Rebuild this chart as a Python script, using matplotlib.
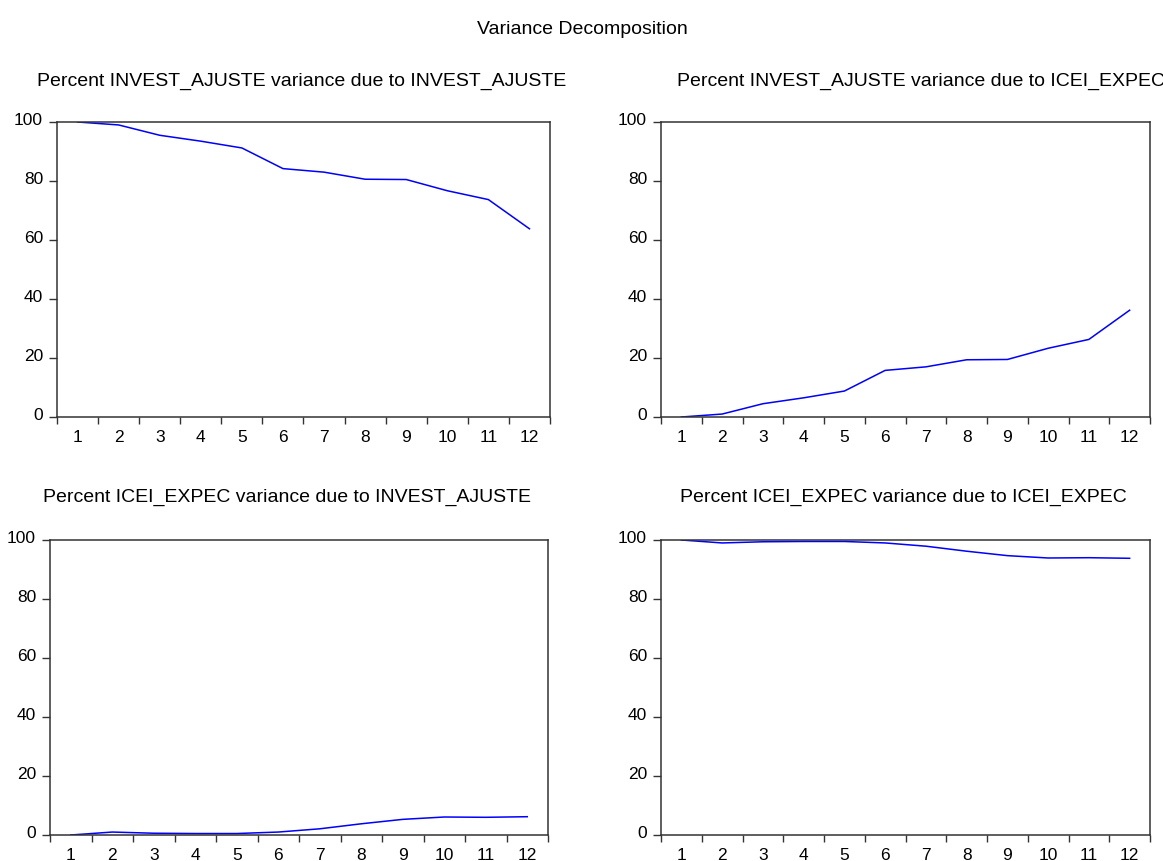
import matplotlib.pyplot as plt
from matplotlib.transforms import ScaledTranslation

plt.rcParams['font.family'] = ['Liberation Sans', 'DejaVu Sans']

periods = list(range(1, 13))
invest_by_invest = [100.0, 99.0, 95.5, 93.5, 91.2, 84.2, 83.0, 80.6, 80.5, 76.7, 73.7, 63.8]
invest_by_icei = [0.0, 1.0, 4.5, 6.5, 8.8, 15.8, 17.0, 19.4, 19.5, 23.3, 26.3, 36.2]
icei_by_invest = [0.0, 1.0, 0.6, 0.5, 0.5, 1.0, 2.1, 3.8, 5.3, 6.1, 6.0, 6.2]
icei_by_icei = [100.0, 99.0, 99.4, 99.5, 99.5, 99.0, 97.9, 96.2, 94.7, 93.9, 94.0, 93.8]

titles = ["Percent INVEST_AJUSTE variance due to INVEST_AJUSTE",
          "Percent INVEST_AJUSTE variance due to ICEI_EXPEC",
          "Percent ICEI_EXPEC variance due to INVEST_AJUSTE",
          "Percent ICEI_EXPEC variance due to ICEI_EXPEC"]
series = [invest_by_invest, invest_by_icei, icei_by_invest, icei_by_icei]

W, H = 1163, 862
# axes boxes in pixels: left, right, top, bottom ; title center x, title y
boxes = [(57, 550, 123, 418, 302, 81),
         (661, 1150, 123, 418, 921, 81),
         (50, 548, 541, 836, 287, 497),
         (661, 1150, 541, 836, 903, 497)]

fig = plt.figure(figsize=(W / 100, H / 100), dpi=100)
fig.text(582 / W, 1 - 29 / H, "Variance Decomposition", ha='center', va='center', fontsize=14)

spine_col = '#333333'
for (l, r, t, b, tx, ty), vals, title in zip(boxes, series, titles):
    ax = fig.add_axes([l / W, 1 - b / H, (r - l) / W, (b - t) / H])
    ax.plot(periods, vals, color='#0000ff', lw=1.1)
    ax.set_xlim(0.5, 12.5)
    ax.set_ylim(0, 100)
    ax.set_yticks([0, 20, 40, 60, 80, 100])
    ax.set_xticks([p - 0.5 for p in periods] + [12.5])
    ax.set_xticklabels([])
    ax.set_xticks(periods, minor=True)
    ax.set_xticklabels([str(p) for p in periods], minor=True)
    ax.tick_params(axis='x', which='major', direction='out', length=5, width=1, color=spine_col)
    ax.tick_params(axis='x', which='minor', length=0, pad=9, labelsize=12.5)
    ax.tick_params(axis='y', direction='out', length=6, width=1, color=spine_col, pad=4, labelsize=12.5)
    shift = ScaledTranslation(0, 3 / 72, fig.dpi_scale_trans)
    for lab in ax.get_yticklabels():
        lab.set_transform(lab.get_transform() + shift)
    for s in ax.spines.values():
        s.set_color(spine_col)
        s.set_linewidth(1.1)
    fig.text(tx / W, 1 - ty / H, title, ha='center', va='center', fontsize=14)

fig.savefig('out.png', dpi=100)
